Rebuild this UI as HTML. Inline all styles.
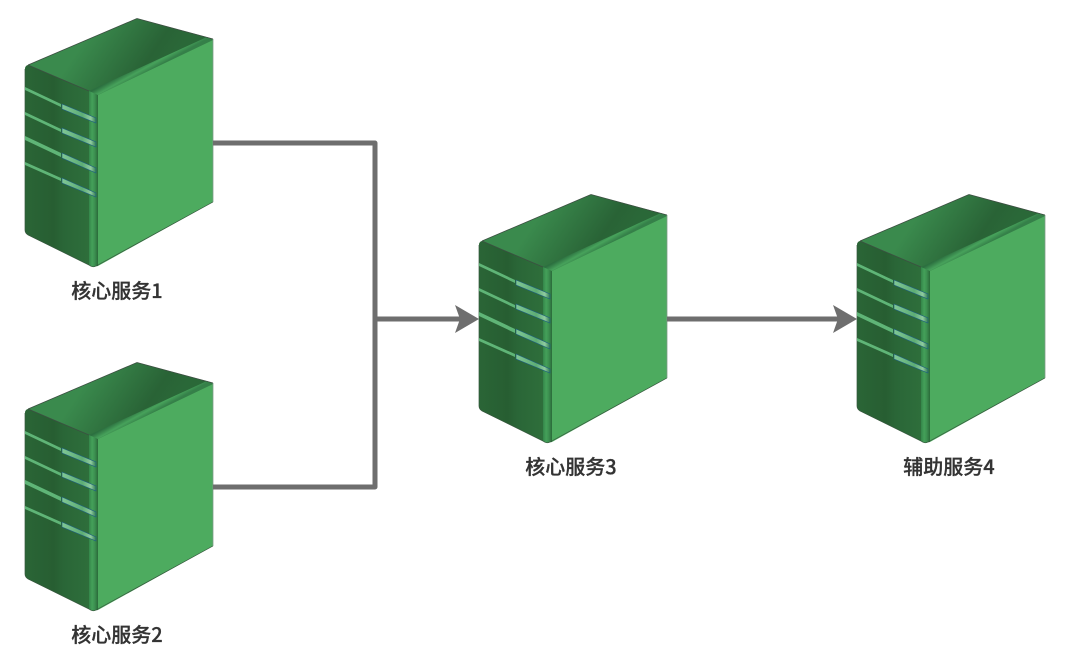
<!DOCTYPE html>
<html><head><meta charset="utf-8"><style>
html,body{margin:0;padding:0;background:#fff;width:1082px;height:662px;overflow:hidden}
svg{display:block}
text{font-family:"Noto Sans CJK SC","Liberation Sans",sans-serif;font-size:20px;font-weight:500;fill:#333;stroke:#333;stroke-width:.3;text-anchor:middle}
</style></head><body>
<svg width="1082" height="662" viewBox="0 0 1082 662" xmlns="http://www.w3.org/2000/svg">
<defs>
<linearGradient id="top" gradientUnits="userSpaceOnUse" x1="95" y1="25" x2="165" y2="72">
<stop offset="0" stop-color="#3a8a4d"/><stop offset=".75" stop-color="#296336"/><stop offset="1" stop-color="#2a6838"/>
</linearGradient>
<linearGradient id="front" gradientUnits="userSpaceOnUse" x1="25" y1="0" x2="89" y2="0">
<stop offset="0" stop-color="#2a6536"/><stop offset=".45" stop-color="#275e32"/><stop offset=".6" stop-color="#2a6637"/><stop offset="1" stop-color="#2e6e3b"/>
</linearGradient>
<linearGradient id="edge" gradientUnits="userSpaceOnUse" x1="89" y1="0" x2="98" y2="0">
<stop offset="0" stop-color="#34864a"/><stop offset=".35" stop-color="#44a059"/><stop offset=".65" stop-color="#3c8f50"/><stop offset="1" stop-color="#2a6a39"/>
</linearGradient>
<linearGradient id="bevel" gradientUnits="userSpaceOnUse" x1="146" y1="61" x2="151" y2="70">
<stop offset="0" stop-color="#2c7040"/><stop offset=".55" stop-color="#47a25b"/><stop offset="1" stop-color="#358049"/>
</linearGradient>
<linearGradient id="slot" gradientUnits="userSpaceOnUse" x1="62" y1="0" x2="96" y2="0">
<stop offset="0" stop-color="#80c795"/><stop offset=".6" stop-color="#5dad75"/><stop offset=".85" stop-color="#8fcb9f"/><stop offset="1" stop-color="#2f7a50"/>
</linearGradient>
<g id="srv">
<path d="M25 69Q25 66 28 65L137 18.500L213 39L213 202L96 266Q93 268 89 265L28 235Q25 233 25 230Z" fill="#2c6a38"/>
<path d="M28 65L137 18.500L208 37.500L89 91Z" fill="url(#top)"/>
<path d="M25 69Q25 66 28 65L89 91L89 265L28 235Q25 233 25 230Z" fill="url(#front)"/>
<path d="M89 91L98 94L98 266L93 267L89 265Z" fill="url(#edge)"/>
<path d="M89 91L98 95L213 40L207 37Z" fill="url(#bevel)"/>
<path d="M98 95L213 40L213 202L98 266Z" fill="#4dab5f"/>
<path d="M137 18.500L28 65" fill="none" stroke="#3d4f42" stroke-width=".8"/>
<path d="M137 18.500L213 39" fill="none" stroke="#3d4f42" stroke-width=".8"/>
<path d="M28 65L89 91" fill="none" stroke="#3d4f42" stroke-width=".8"/>
<path d="M213 39V202" fill="none" stroke="#7f9c87" stroke-width=".8"/>
<path d="M213 202L96 266Q93 268 89 265L28 235Q25 233 25 230V69" fill="none" stroke="#38573f" stroke-width=".7"/>
<path d="M25 87L61 104L61 107L25 90Z" fill="#5fb577"/>
<path d="M62 104L96 118L96 123L62 109Z" fill="url(#slot)" stroke="#1f5f80" stroke-width=".6"/>
<path d="M25 112L61 129L61 132L25 115Z" fill="#5fb577"/>
<path d="M62 128L96 142L96 147L62 133Z" fill="url(#slot)" stroke="#1f5f80" stroke-width=".6"/>
<path d="M25 136L61 153L61 157L25 140Z" fill="#5fb577"/>
<path d="M62 153L96 168L96 173L62 158Z" fill="url(#slot)" stroke="#1f5f80" stroke-width=".6"/>
<path d="M25 162L61 178L61 181L25 165Z" fill="#5fb577"/>
<path d="M62 178L96 193L96 197L62 183Z" fill="url(#slot)" stroke="#1f5f80" stroke-width=".6"/>
</g>
</defs>
<use href="#srv"/>
<use href="#srv" y="344"/>
<use href="#srv" x="454" y="176"/>
<use href="#srv" x="832" y="176"/>
<g fill="none" stroke="#6e6e6e" stroke-width="5" stroke-linejoin="round">
<path d="M213 143H375V487H213"/>
<path d="M375 319H460"/>
<path d="M667 319H838"/>
</g>
<path d="M479 319L455 305L460 319L455 333Z" fill="#6e6e6e"/>
<path d="M857 319L833 305L838 319L833 333Z" fill="#6e6e6e"/>
<text x="117" y="298">核心服务1</text>
<text x="117" y="642">核心服务2</text>
<text x="571" y="474">核心服务3</text>
<text x="949" y="474">辅助服务4</text>
</svg>
</body></html>
